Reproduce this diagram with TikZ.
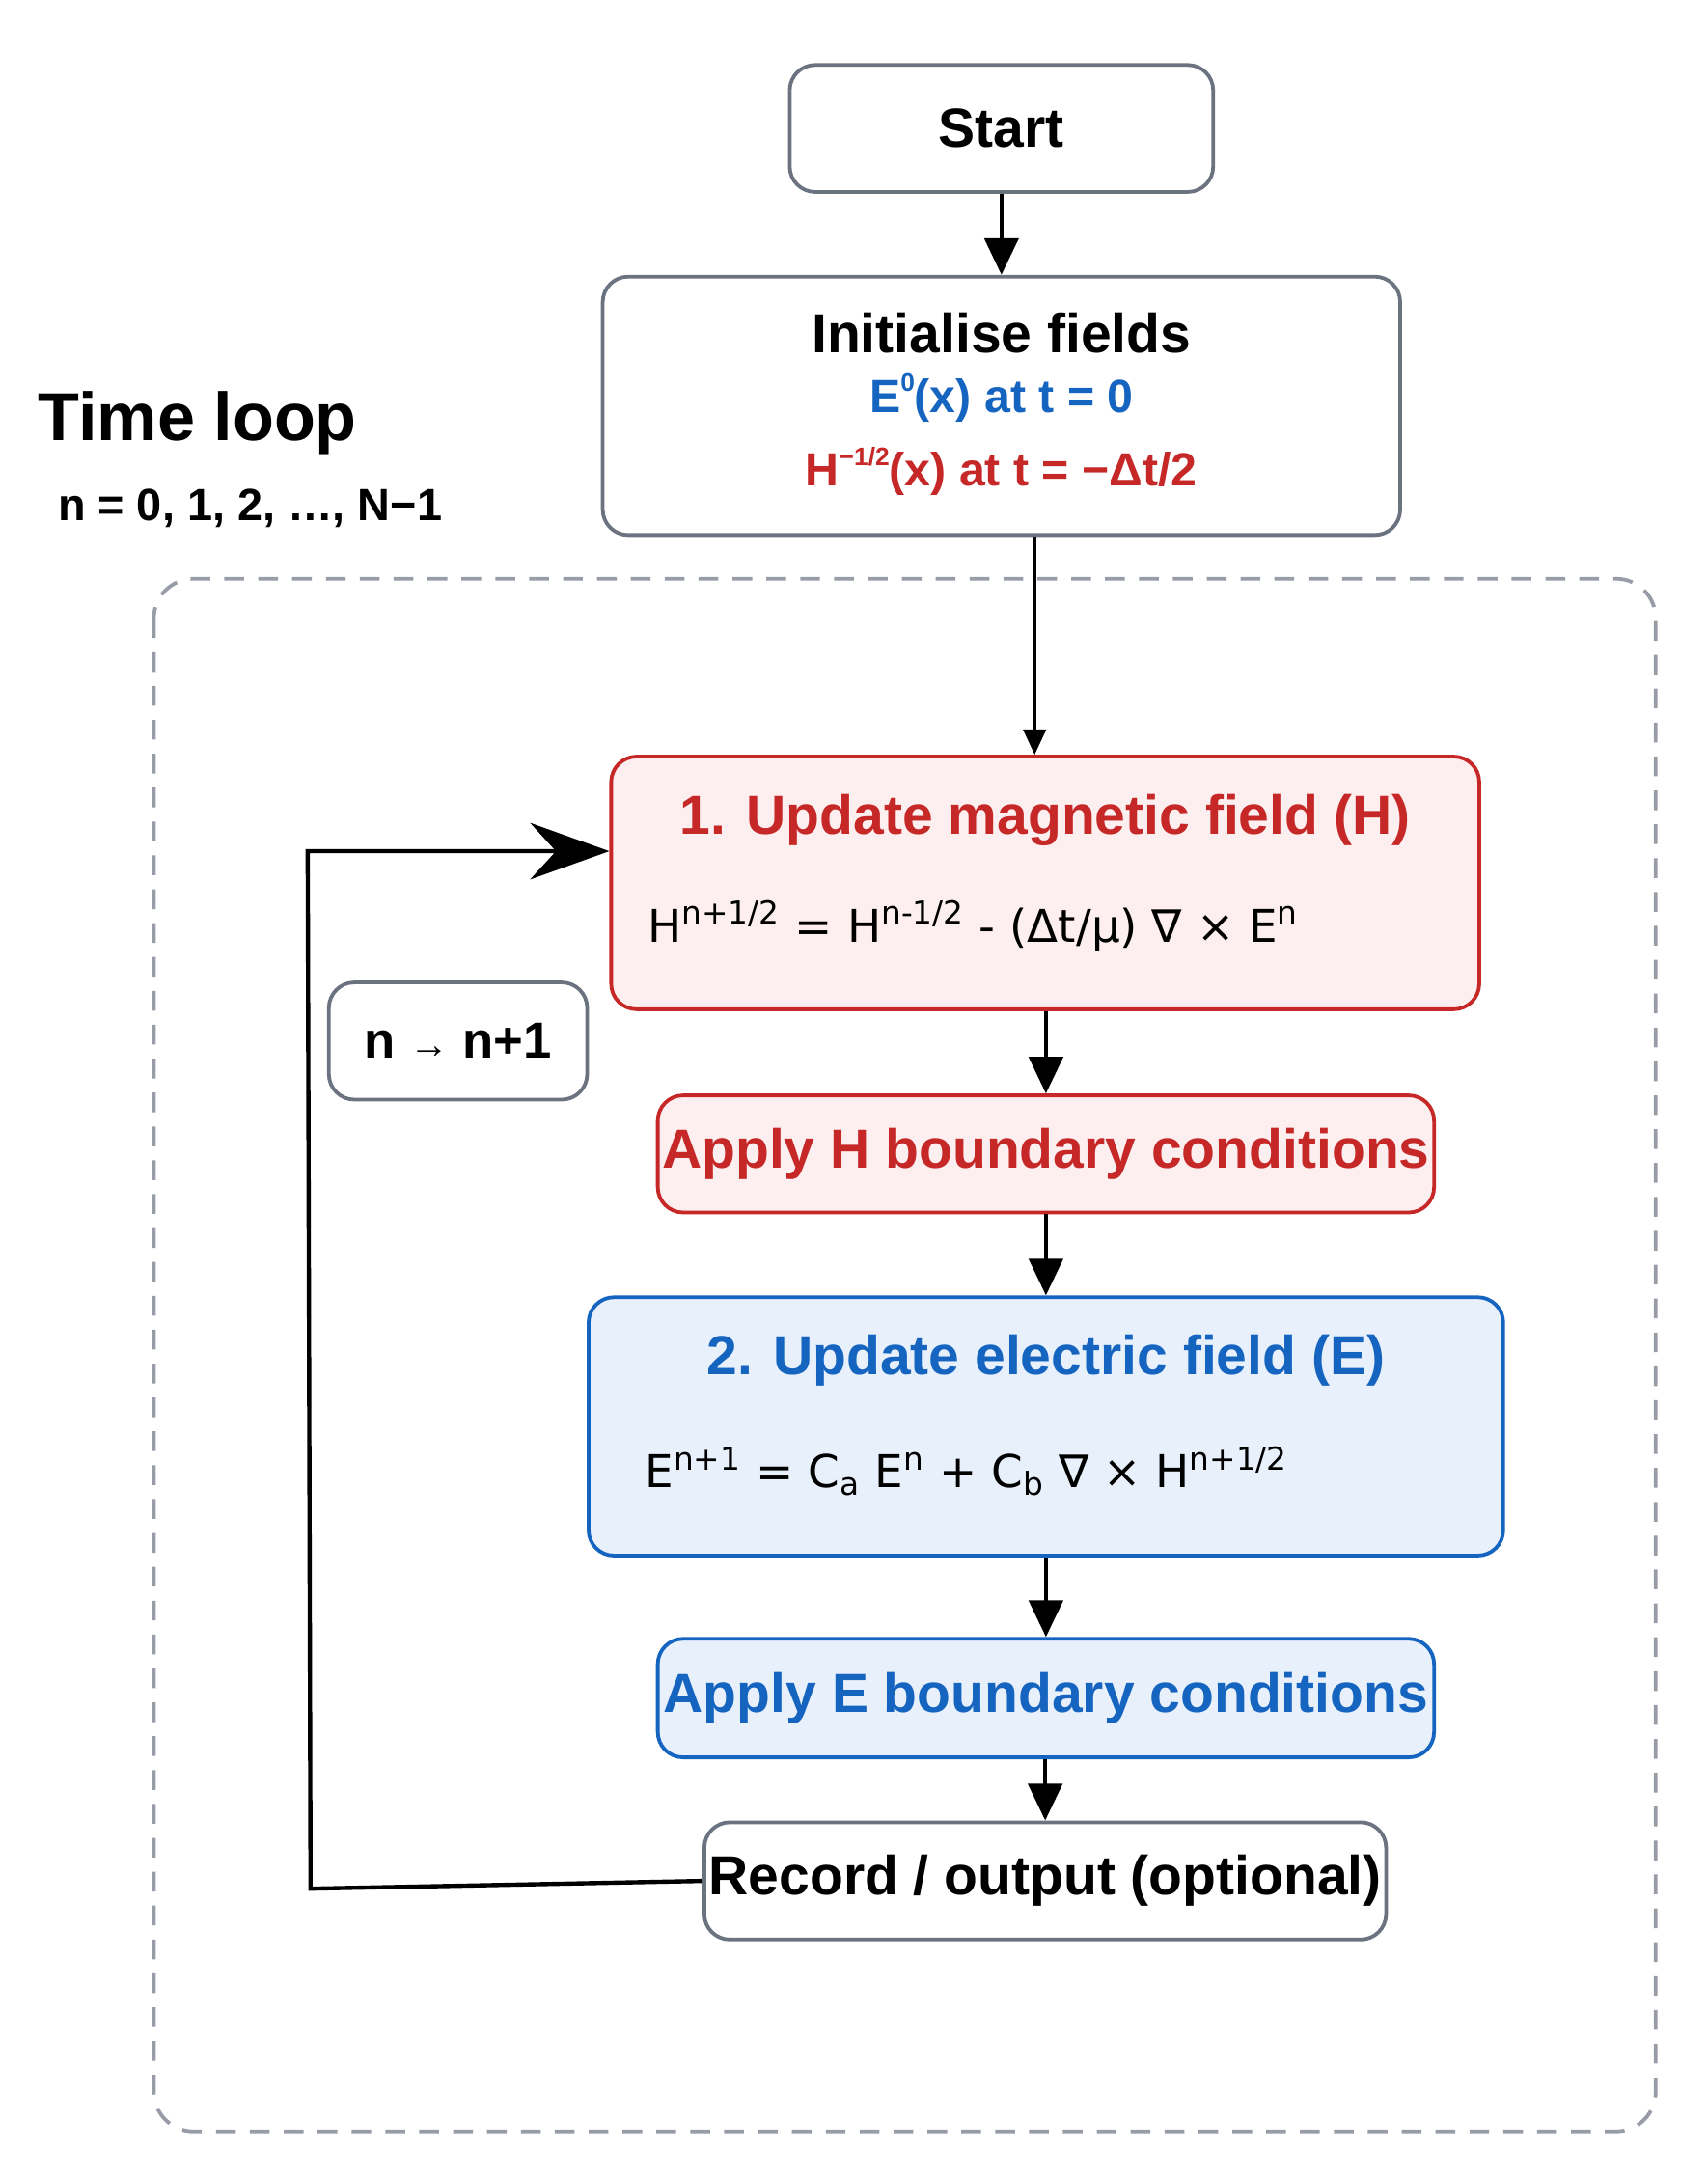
\documentclass[tikz,border=0pt]{standalone}
\usepackage{fontspec}
\setmainfont{Liberation Sans}
\newfontfamily\eqfont{DejaVu Sans}
\usetikzlibrary{positioning,arrows.meta}
\definecolor{hred}{HTML}{C62828}
\definecolor{eblue}{HTML}{1565C0}
\definecolor{hfill}{HTML}{FDEFEF}
\definecolor{efill}{HTML}{E8F0FC}
\definecolor{edge}{HTML}{6B7280}
\newcommand{\smallsup}[1]{\raisebox{0.45em}{\fontsize{9}{10}\selectfont #1}}
\begin{document}
\begin{tikzpicture}[x=0.5pt,y=-0.5pt,
    box/.style={draw=edge,line width=1.3pt,rounded corners=9pt,fill=white,inner sep=0pt},
    hbox/.style={box,draw=hred,fill=hfill},
    ebox/.style={box,draw=eblue,fill=efill},
    big/.style={font=\bfseries\fontsize{19.5}{23}\selectfont},
    flow/.style={line width=1.5pt,-{Triangle[length=13pt,width=12pt]}}]
    \useasboundingbox (0,0) rectangle (1210,1543);

    % loop frame
    \draw [edge!70,line width=1.3pt,dash pattern={on 7pt off 5pt},rounded corners=14pt] (109,410) rectangle (1173,1510);
    \node (title) [anchor=west,font=\bfseries\fontsize{24}{28}\selectfont] at (20,300) {Time loop};
    \node (range) [anchor=west,font=\bfseries\fontsize{16}{18}\selectfont] at (34,360) {n = 0, 1, 2, …, N−1};

    % boxes
    \node (start) [box,minimum width=150pt,minimum height=45pt,big] at (709.5,91) {Start};
    \node (init) [box,minimum width=282.5pt,minimum height=91.5pt] at (709.5,287.5) {};
    \node (initT) [big] at (709.5,236) {Initialise fields};
    \node (initE) [font=\bfseries\fontsize{16.5}{19}\selectfont,text=eblue] at (709.5,282) {E\smallsup{0}(x) at t = 0};
    \node (initH) [font=\bfseries\fontsize{16.5}{19}\selectfont,text=hred] at (709.5,334) {H\smallsup{−1/2}(x) at t = −Δt/2};

    \node (updH) [hbox,minimum width=307.5pt,minimum height=89.5pt] at (740.5,625.5) {};
    \node (updHT) [big,text=hred] at (740.5,581) {1. Update magnetic field (H)};
    \node (updHeq) [anchor=west,font=\eqfont\fontsize{16}{19}\selectfont] at (452,656) {H\textsuperscript{n+1/2} = H\textsuperscript{n-1/2} - (Δt/μ) ∇ × E\textsuperscript{n}};

    \node (step) [box,minimum width=91.5pt,minimum height=41.5pt,font=\bfseries\fontsize{18}{22}\selectfont] at (324.5,737.5) {n {\normalfont\fontsize{14}{16}\selectfont →} n+1};

    \node (bcH) [hbox,minimum width=275pt,minimum height=41.5pt,big,text=hred] at (741,817.5) {Apply H boundary conditions};

    \node (updE) [ebox,minimum width=324pt,minimum height=91.5pt] at (741,1010.5) {};
    \node (updET) [big,text=eblue] at (741,964) {2. Update electric field (E)};
    \node (updEeq) [anchor=west,font=\eqfont\fontsize{16}{19}\selectfont] at (450,1042) {E\textsuperscript{n+1} = C\textsubscript{a} E\textsuperscript{n} + C\textsubscript{b} ∇ × H\textsuperscript{n+1/2}};

    \node (bcE) [ebox,minimum width=275pt,minimum height=42pt,big,text=eblue] at (741,1203) {Apply E boundary conditions};

    \node (rec) [box,minimum width=241.5pt,minimum height=41.5pt,big] at (740.5,1332.5) {Record / output (optional)};

    % connectors
    \draw [flow] (start) -- (init);
    \draw [line width=1.2pt,-{Triangle[length=9pt,width=8pt]}] (init.south -| 733,0) -- (updH.north -| 733,0);
    \draw [flow] (updH.south -| bcH) -- (bcH);
    \draw [flow] (bcH) -- (updE);
    \draw [flow] (updE.south -| bcE) -- (bcE);
    \draw [flow] (bcE.south -| rec) -- (rec);
    \draw [line width=1.5pt,-{Stealth[length=28pt,width=20pt]}] (rec.west) -- (220,1338) -- (218,603) -- (updH.west |- 0,603);
\end{tikzpicture}
\end{document}
